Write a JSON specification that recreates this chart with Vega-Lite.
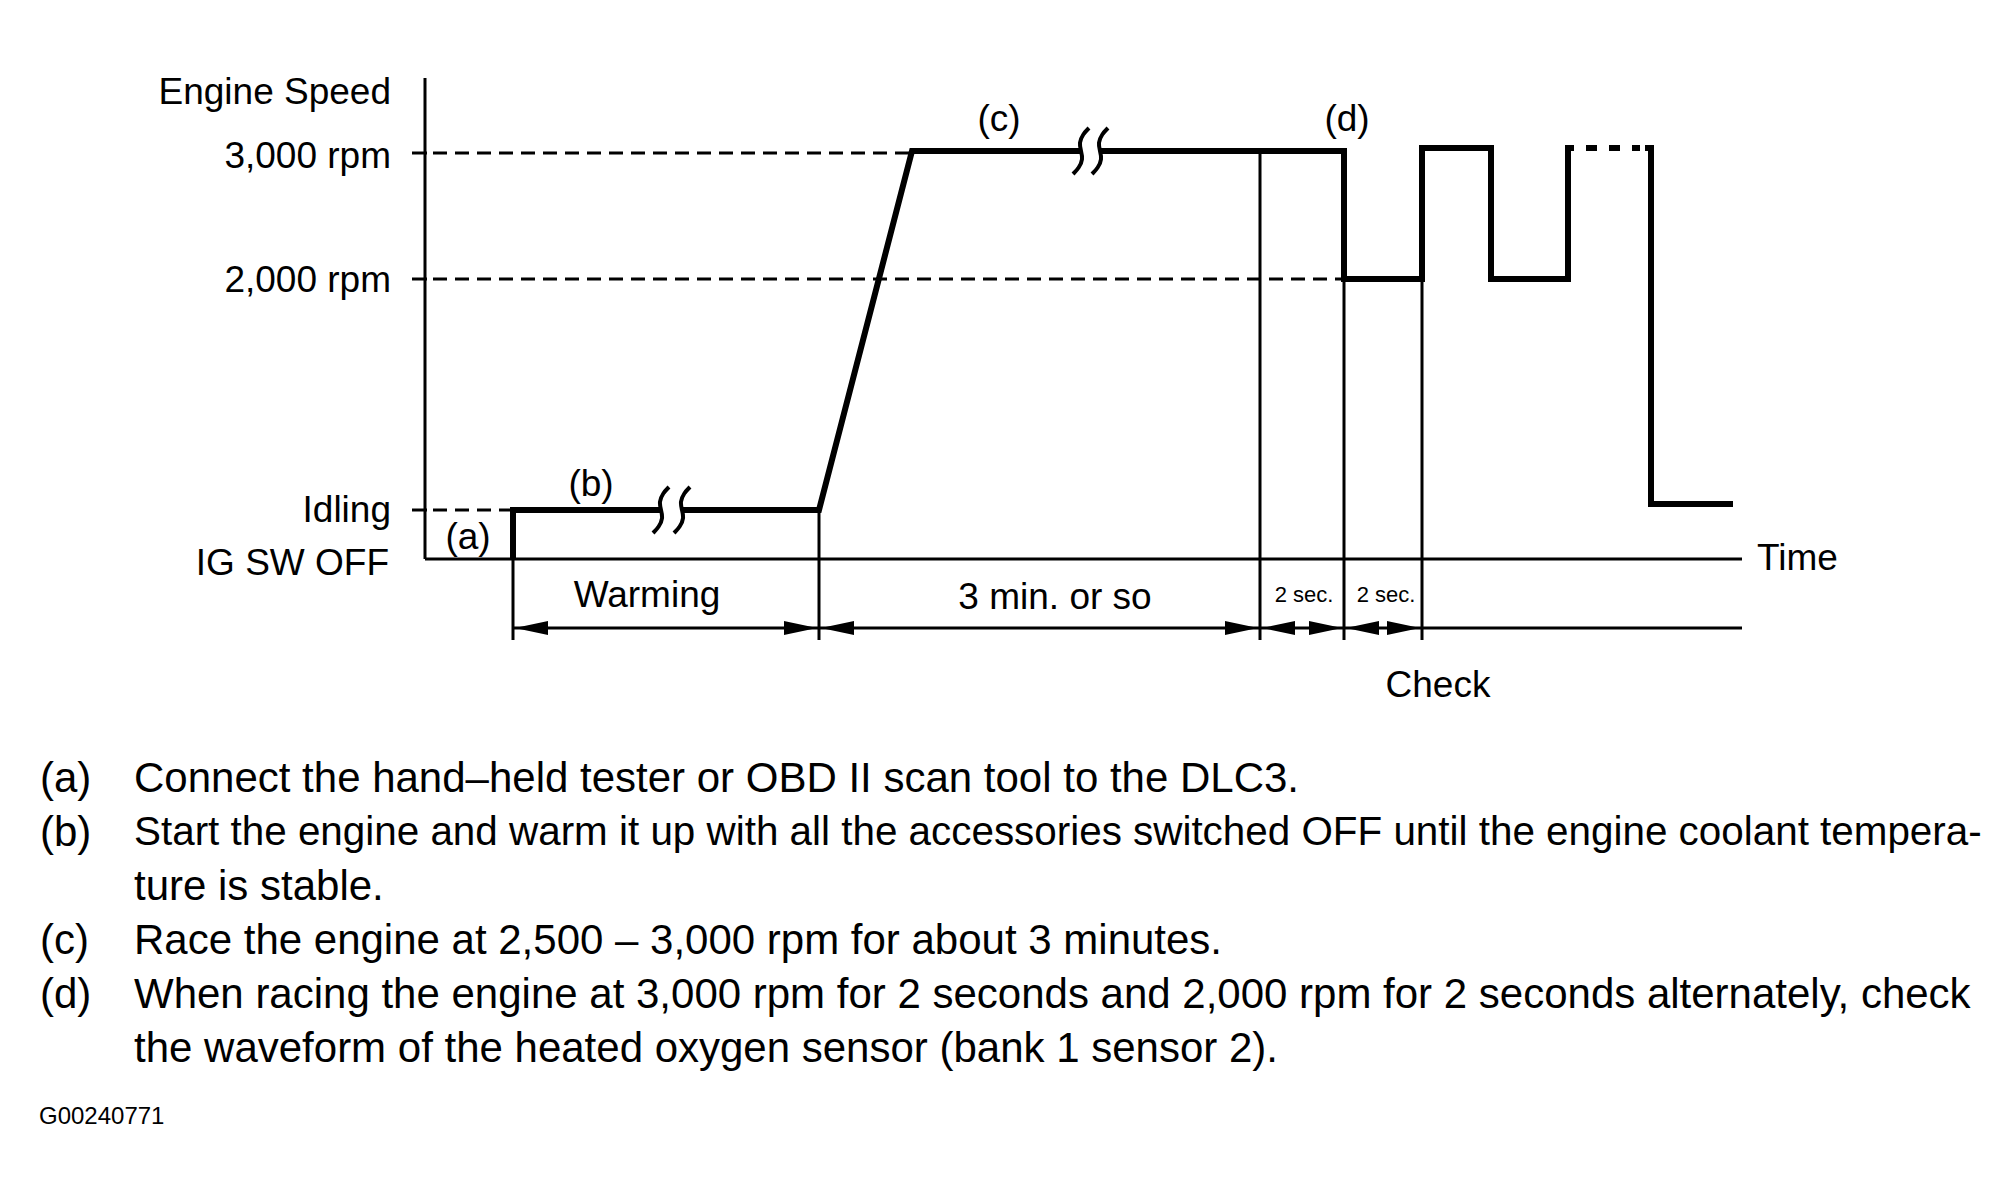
{
  "$schema": "https://vega.github.io/schema/vega-lite/v6.json",
  "width": 2016,
  "height": 1202,
  "autosize": {"type": "none"},
  "padding": 0,
  "background": "white",
  "config": {"view": {"stroke": null}, "text": {"font": "Liberation Sans", "color": "#000"}},
  "datasets": {
    "thick": [
      {"seg": 1, "ord": 1, "x": 513, "y": 559},
      {"seg": 1, "ord": 2, "x": 513, "y": 510},
      {"seg": 1, "ord": 3, "x": 661, "y": 510},
      {"seg": 2, "ord": 1, "x": 682, "y": 510},
      {"seg": 2, "ord": 2, "x": 819, "y": 510},
      {"seg": 2, "ord": 3, "x": 912, "y": 151},
      {"seg": 2, "ord": 4, "x": 1081, "y": 151},
      {"seg": 3, "ord": 1, "x": 1100, "y": 151},
      {"seg": 3, "ord": 2, "x": 1344, "y": 151},
      {"seg": 3, "ord": 3, "x": 1344, "y": 279},
      {"seg": 3, "ord": 4, "x": 1422, "y": 279},
      {"seg": 3, "ord": 5, "x": 1422, "y": 148},
      {"seg": 3, "ord": 6, "x": 1491, "y": 148},
      {"seg": 3, "ord": 7, "x": 1491, "y": 279},
      {"seg": 3, "ord": 8, "x": 1568, "y": 279},
      {"seg": 3, "ord": 9, "x": 1568, "y": 148},
      {"seg": 3, "ord": 10, "x": 1574, "y": 148},
      {"seg": 4, "ord": 1, "x": 1645, "y": 148},
      {"seg": 4, "ord": 2, "x": 1651, "y": 148},
      {"seg": 4, "ord": 3, "x": 1651, "y": 504},
      {"seg": 4, "ord": 4, "x": 1733, "y": 504}
    ],
    "thin": [
      {"x": 425, "y": 78, "x2": 425, "y2": 559},
      {"x": 425, "y": 559, "x2": 1742, "y2": 559},
      {"x": 412, "y": 153, "x2": 427, "y2": 153},
      {"x": 412, "y": 279, "x2": 427, "y2": 279},
      {"x": 412, "y": 510, "x2": 427, "y2": 510},
      {"x": 513, "y": 559, "x2": 513, "y2": 640},
      {"x": 819, "y": 510, "x2": 819, "y2": 640},
      {"x": 1260, "y": 151, "x2": 1260, "y2": 640},
      {"x": 1344, "y": 279, "x2": 1344, "y2": 640},
      {"x": 1422, "y": 279, "x2": 1422, "y2": 640},
      {"x": 513, "y": 628, "x2": 1742, "y2": 628}
    ],
    "dashed": [
      {"x": 433, "y": 153, "x2": 912, "y2": 153},
      {"x": 433, "y": 279, "x2": 1344, "y2": 279},
      {"x": 433, "y": 510, "x2": 513, "y2": 510}
    ],
    "dotted": [
      {"x": 1586, "y": 148, "x2": 1640, "y2": 148}
    ],
    "squiggle": [
      {"id": "b1", "ord": 1, "x": 669, "y": 487},
      {"id": "b1", "ord": 2, "x": 663, "y": 493},
      {"id": "b1", "ord": 3, "x": 659, "y": 502},
      {"id": "b1", "ord": 4, "x": 661, "y": 510},
      {"id": "b1", "ord": 5, "x": 663, "y": 518},
      {"id": "b1", "ord": 6, "x": 659, "y": 527},
      {"id": "b1", "ord": 7, "x": 653, "y": 533},
      {"id": "b2", "ord": 1, "x": 690, "y": 487},
      {"id": "b2", "ord": 2, "x": 684, "y": 493},
      {"id": "b2", "ord": 3, "x": 680, "y": 502},
      {"id": "b2", "ord": 4, "x": 682, "y": 510},
      {"id": "b2", "ord": 5, "x": 684, "y": 518},
      {"id": "b2", "ord": 6, "x": 680, "y": 527},
      {"id": "b2", "ord": 7, "x": 674, "y": 533},
      {"id": "c1", "ord": 1, "x": 1089, "y": 128},
      {"id": "c1", "ord": 2, "x": 1083, "y": 134},
      {"id": "c1", "ord": 3, "x": 1079, "y": 143},
      {"id": "c1", "ord": 4, "x": 1081, "y": 151},
      {"id": "c1", "ord": 5, "x": 1083, "y": 159},
      {"id": "c1", "ord": 6, "x": 1079, "y": 168},
      {"id": "c1", "ord": 7, "x": 1073, "y": 174},
      {"id": "c2", "ord": 1, "x": 1108, "y": 128},
      {"id": "c2", "ord": 2, "x": 1102, "y": 134},
      {"id": "c2", "ord": 3, "x": 1098, "y": 143},
      {"id": "c2", "ord": 4, "x": 1100, "y": 151},
      {"id": "c2", "ord": 5, "x": 1102, "y": 159},
      {"id": "c2", "ord": 6, "x": 1098, "y": 168},
      {"id": "c2", "ord": 7, "x": 1092, "y": 174}
    ],
    "arrows": [
      {"x": 515, "y": 628, "dir": "left"},
      {"x": 817, "y": 628, "dir": "right"},
      {"x": 821, "y": 628, "dir": "left"},
      {"x": 1258, "y": 628, "dir": "right"},
      {"x": 1262, "y": 628, "dir": "left"},
      {"x": 1342, "y": 628, "dir": "right"},
      {"x": 1346, "y": 628, "dir": "left"},
      {"x": 1420, "y": 628, "dir": "right"}
    ],
    "axisLabels": [
      {"x": 391, "y": 93, "label": "Engine Speed"},
      {"x": 391, "y": 157, "label": "3,000 rpm"},
      {"x": 391, "y": 281, "label": "2,000 rpm"},
      {"x": 391, "y": 511, "label": "Idling"},
      {"x": 389, "y": 564, "label": "IG SW OFF"}
    ],
    "centerLabels": [
      {"x": 468, "y": 538, "label": "(a)"},
      {"x": 591, "y": 485, "label": "(b)"},
      {"x": 999, "y": 120, "label": "(c)"},
      {"x": 1347, "y": 120, "label": "(d)"},
      {"x": 647, "y": 596, "label": "Warming"},
      {"x": 1055, "y": 598, "label": "3 min. or so"},
      {"x": 1438, "y": 686, "label": "Check"}
    ],
    "leftLabels": [
      {"x": 1757, "y": 559, "label": "Time"}
    ],
    "secLabels": [
      {"x": 1304, "y": 595, "label": "2 sec."},
      {"x": 1386, "y": 595, "label": "2 sec."}
    ],
    "notes": [
      {"x": 40, "y": 779, "label": "(a)"},
      {"x": 134, "y": 779, "label": "Connect the hand–held tester or OBD II scan tool to the DLC3."},
      {"x": 40, "y": 833, "label": "(b)"},
      {"x": 134, "y": 887, "label": "ture is stable."},
      {"x": 40, "y": 941, "label": "(c)"},
      {"x": 134, "y": 941, "label": "Race the engine at 2,500 – 3,000 rpm for about 3 minutes."},
      {"x": 40, "y": 995, "label": "(d)"},
      {"x": 134, "y": 995, "label": "When racing the engine at 3,000 rpm for 2 seconds and 2,000 rpm for 2 seconds alternately, check"},
      {"x": 134, "y": 1049, "label": "the waveform of the heated oxygen sensor (bank 1 sensor 2)."}
    ],
    "justifiedNote": [
      {"x": 134, "y": 833, "label": "Start the engine and warm it up with all the accessories switched OFF until the engine coolant tempera-"}
    ],
    "code": [
      {"x": 39, "y": 1117, "label": "G00240771"}
    ]
  },
  "encoding": {
    "x": {"field": "x", "type": "quantitative", "scale": {"domain": [0, 2016], "nice": false, "zero": false}, "axis": null},
    "y": {"field": "y", "type": "quantitative", "scale": {"domain": [0, 1202], "nice": false, "zero": false, "reverse": true}, "axis": null}
  },
  "layer": [
    {
      "data": {"name": "thin"},
      "mark": {"type": "rule", "color": "#000", "strokeWidth": 3},
      "encoding": {"x2": {"field": "x2"}, "y2": {"field": "y2"}}
    },
    {
      "data": {"name": "dashed"},
      "mark": {"type": "rule", "color": "#000", "strokeWidth": 3, "strokeDash": [14, 8]},
      "encoding": {"x2": {"field": "x2"}, "y2": {"field": "y2"}}
    },
    {
      "data": {"name": "dotted"},
      "mark": {"type": "rule", "color": "#000", "strokeWidth": 6, "strokeDash": [11, 12]},
      "encoding": {"x2": {"field": "x2"}, "y2": {"field": "y2"}}
    },
    {
      "data": {"name": "thick"},
      "mark": {"type": "line", "color": "#000", "strokeWidth": 6, "strokeJoin": "miter", "strokeCap": "butt"},
      "encoding": {"detail": {"field": "seg", "type": "nominal"}, "order": {"field": "ord", "type": "quantitative"}}
    },
    {
      "data": {"name": "squiggle"},
      "mark": {"type": "line", "color": "#000", "strokeWidth": 4, "interpolate": "basis"},
      "encoding": {"detail": {"field": "id", "type": "nominal"}, "order": {"field": "ord", "type": "quantitative"}}
    },
    {
      "data": {"name": "arrows"},
      "mark": {"type": "point", "filled": true, "color": "#000", "opacity": 1, "size": 1089},
      "encoding": {
        "shape": {"field": "dir", "type": "nominal", "scale": {"domain": ["left", "right"], "range": ["M0,0L2,-0.42L2,0.42Z", "M0,0L-2,-0.42L-2,0.42Z"]}, "legend": null}
      }
    },
    {
      "data": {"name": "axisLabels"},
      "mark": {"type": "text", "align": "right", "baseline": "middle", "fontSize": 37},
      "encoding": {"text": {"field": "label"}}
    },
    {
      "data": {"name": "centerLabels"},
      "mark": {"type": "text", "align": "center", "baseline": "middle", "fontSize": 37},
      "encoding": {"text": {"field": "label"}}
    },
    {
      "data": {"name": "leftLabels"},
      "mark": {"type": "text", "align": "left", "baseline": "middle", "fontSize": 37},
      "encoding": {"text": {"field": "label"}}
    },
    {
      "data": {"name": "secLabels"},
      "mark": {"type": "text", "align": "center", "baseline": "middle", "fontSize": 22},
      "encoding": {"text": {"field": "label"}}
    },
    {
      "data": {"name": "notes"},
      "mark": {"type": "text", "align": "left", "baseline": "middle", "fontSize": 42},
      "encoding": {"text": {"field": "label"}}
    },
    {
      "data": {"name": "justifiedNote"},
      "mark": {"type": "text", "align": "left", "baseline": "middle", "fontSize": 40.4},
      "encoding": {"text": {"field": "label"}}
    },
    {
      "data": {"name": "code"},
      "mark": {"type": "text", "align": "left", "baseline": "middle", "fontSize": 24},
      "encoding": {"text": {"field": "label"}}
    }
  ]
}
